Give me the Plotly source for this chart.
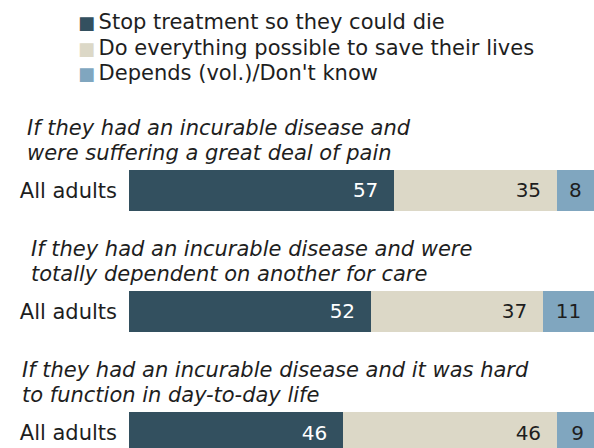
import plotly.graph_objects as go

# ---- data ----
row_label = "All adults"
question_lines = [
    ["If they had an incurable disease and", "were suffering a great deal of pain"],
    ["If they had an incurable disease and were", "totally dependent on another for care"],
    ["If they had an incurable disease and it was hard", "to function in day-to-day life"],
]
series_names = [
    "Stop treatment so they could die",
    "Do everything possible to save their lives",
    "Depends (vol.)/Don't know",
]
stop_vals = [57, 52, 46]
everything_vals = [35, 37, 46]
depends_vals = [8, 11, 9]

# ---- style ----
colors = ["#33505f", "#dcd8c7", "#80a6bf"]
text_colors = ["#ffffff", "#1e1e1e", "#1e1e1e"]
FONT = "DejaVu Sans, Verdana, sans-serif"
NB = "\u00a0"

positions = list(range(len(question_lines)))
all_series = [stop_vals, everything_vals, depends_vals]

fig = go.Figure()
for i, (name, vals) in enumerate(zip(series_names, all_series)):
    if i < 2:
        txt = [f"{v}{NB}{NB}" for v in vals]
        anchor = "end"
    else:
        txt = [f"{v}" for v in vals]
        anchor = "middle"
    fig.add_trace(go.Bar(
        name=name,
        y=positions,
        x=vals,
        orientation="h",
        width=0.34,
        marker=dict(color=colors[i], line=dict(width=0)),
        text=txt,
        textposition="inside",
        insidetextanchor=anchor,
        textangle=0,
        insidetextfont=dict(color=text_colors[i], size=20, family=FONT),
        hoverinfo="skip",
        showlegend=False,
    ))

annotations = []
# question headings (two lines each, left aligned)
q_xshift = [-104, -100, -109]
line_offsets = [-0.5165, -0.31]
for p, lines, xs in zip(positions, question_lines, q_xshift):
    for line, off in zip(lines, line_offsets):
        annotations.append(dict(
            text=f"<i>{line}</i>",
            xref="paper", yref="y",
            x=0, y=p + off,
            xanchor="left", yanchor="middle",
            xshift=xs,
            align="left",
            showarrow=False,
            font=dict(size=21, family=FONT, color="#1e1e1e"),
        ))

# key: coloured squares followed by series names, one row each
key_row_shift = [-22, -47.5, -73]
for c, n, ys in zip(colors, series_names, key_row_shift):
    annotations.append(dict(
        text=f"<span style='color:{c};font-size:18px'>\u25a0\u2009</span>{n}",
        xref="paper", yref="paper",
        x=0, y=1,
        xanchor="left", yanchor="middle",
        xshift=-53, yshift=ys,
        align="left",
        showarrow=False,
        font=dict(size=21, family=FONT, color="#1e1e1e"),
    ))

fig.update_layout(
    width=594, height=448,
    margin=dict(l=129, r=0, t=0, b=0),
    barmode="stack",
    bargap=0,
    plot_bgcolor="white",
    paper_bgcolor="white",
    font=dict(family=FONT, size=20, color="#1e1e1e"),
    showlegend=False,
    xaxis=dict(range=[0, 100], visible=False, fixedrange=True),
    yaxis=dict(
        range=[2.128, -1.574],
        tickvals=positions,
        ticktext=[row_label] * len(positions),
        showgrid=False, zeroline=False, showline=False,
        ticks="",
        ticklabelstandoff=11,
        tickfont=dict(size=21, family=FONT, color="#1e1e1e"),
        fixedrange=True,
    ),
    annotations=annotations,
)

fig.write_html(
    "out.html",
    config={"displayModeBar": False, "staticPlot": True},
    post_script="document.body.style.margin='0';",
)
